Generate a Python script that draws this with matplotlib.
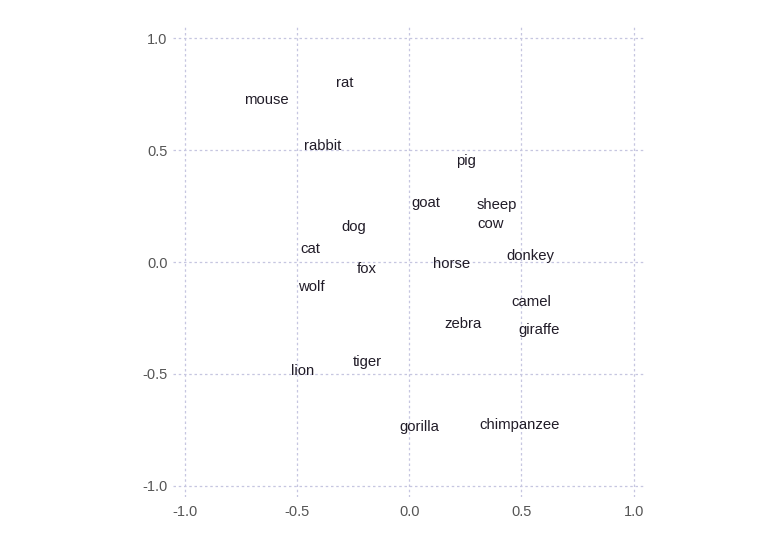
import matplotlib
matplotlib.use("Agg")
import matplotlib.pyplot as plt

words = ["mouse", "rat", "rabbit", "pig", "goat", "sheep", "cow", "dog", "cat",
         "donkey", "fox", "horse", "wolf", "camel", "zebra", "giraffe", "tiger",
         "lion", "gorilla", "chimpanzee"]
xs = [-0.737, -0.326, -0.469, 0.207, 0.008, 0.299, 0.302, -0.300, -0.484,
      0.433, -0.234, 0.104, -0.497, 0.457, 0.156, 0.488, -0.253,
      -0.525, -0.046, 0.312]
ys = [0.708, 0.780, 0.499, 0.432, 0.244, 0.236, 0.153, 0.138, 0.039,
      0.009, -0.048, -0.028, -0.130, -0.195, -0.293, -0.321, -0.466,
      -0.506, -0.753, -0.745]
ticks = [-1.0, -0.5, 0.0, 0.5, 1.0]

plt.rcParams['font.family'] = ['Liberation Sans', 'DejaVu Sans']

fig = plt.figure(figsize=(7.8, 5.52), dpi=100)
ax = fig.add_axes([0.2218, 0.0996, 0.6051, 0.8514])

for w, x, y in zip(words, xs, ys):
    ax.text(x, y, w, fontsize=10.7, color='#211c28', ha='left', va='baseline')

ax.set_xlim(-1.052, 1.05)
ax.set_ylim(-1.05, 1.05)
ax.set_xticks(ticks)
ax.set_yticks(ticks)
ax.set_xticklabels([f"{t:.1f}" for t in ticks])
ax.set_yticklabels([f"{t:.1f}" for t in ticks])
for s in ax.spines.values():
    s.set_visible(False)
ax.tick_params(length=0, labelsize=10.5, colors='#555555')
ax.tick_params(axis='x', pad=5.5)
ax.tick_params(axis='y', pad=4)
ax.grid(True, color='#c6c6e0', linestyle=(0, (2, 2.2)), linewidth=0.9)
ax.set_axisbelow(True)

fig.savefig("out.png", dpi=100)
